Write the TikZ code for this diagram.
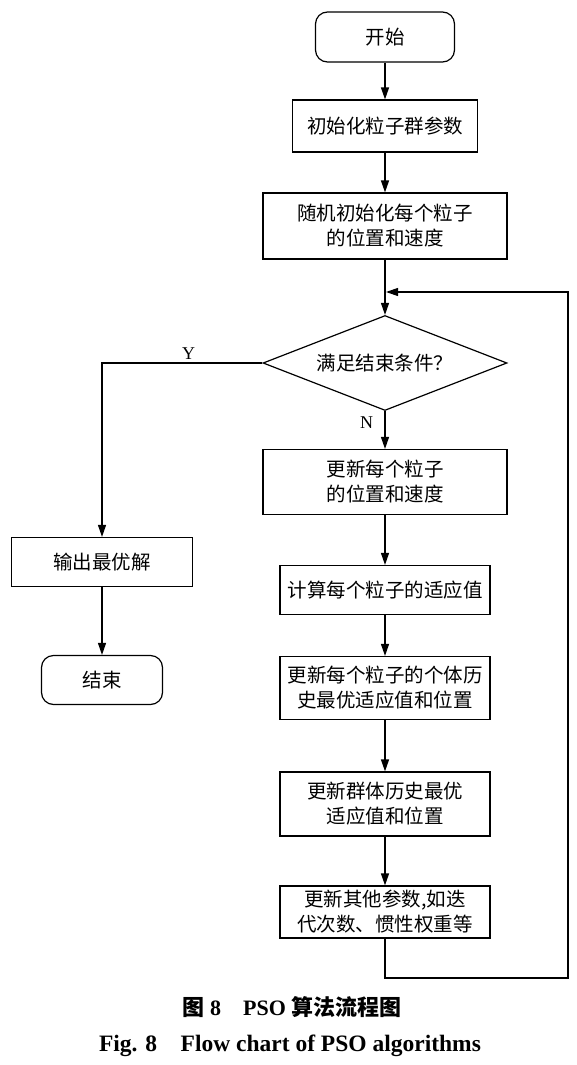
\documentclass[tikz,border=0pt]{standalone}
\usepackage{fontspec}
\setmainfont{Liberation Serif}
\newfontfamily\cjk{Noto Sans CJK SC}
\usetikzlibrary{shapes.geometric,arrows.meta}

\tikzset{
  box/.style={draw,line width=1.2pt,rectangle,inner sep=0pt,align=center,
    font=\cjk\fontsize{19.5}{25}\selectfont},
  term/.style={box,rounded corners=12pt},
  test/.style={box,diamond,aspect=2.57,inner sep=0pt},
  arr/.style={line width=1.2pt,-{Triangle[width=8pt,length=12pt]}},
  line/.style={line width=1.2pt}
}

\begin{document}
\begin{tikzpicture}[x=1pt,y=-1pt]
\useasboundingbox (0,0) rectangle (576,1065);
% the main column
\node[term,minimum width=139pt,minimum height=50pt] (start) at (385,37) {开始};
\node[box,minimum width=185pt,minimum height=52pt] (init) at (385,126) {初始化粒子群参数};
\node[box,minimum width=244pt,minimum height=66pt] (rand) at (385,226) {随机初始化每个粒子\\的位置和速度};
\node[test,minimum width=244pt,minimum height=95pt] (cond) at (385,363) {满足结束条件？};
\node[box,minimum width=244pt,minimum height=65pt] (upd) at (385,482) {更新每个粒子\\的位置和速度};
\node[box,minimum width=210pt,minimum height=49pt] (fit) at (385,590) {计算每个粒子的适应值};
\node[box,minimum width=210pt,minimum height=63pt] (pbest) at (385,688) {更新每个粒子的个体历\\史最优适应值和位置};
\node[box,minimum width=210pt,minimum height=64pt] (gbest) at (385,804) {更新群体历史最优\\适应值和位置};
\node[box,minimum width=210pt,minimum height=52pt] (other) at (385,912) {更新其他参数,如迭\\代次数、惯性权重等};
% the exit column
\node[box,minimum width=181pt,minimum height=49pt] (best) at (102,562) {输出最优解};
\node[term,minimum width=121pt,minimum height=49pt] (stop) at (102,680) {结束};
% the loop back
\coordinate (loopa) at (568,978);
\coordinate (loopb) at (568,292);
\coordinate (join) at (386,292);
% the arrows
\draw[arr] (start) -- (init);
\draw[arr] (init) -- (rand);
\draw[arr] (rand) -- (cond);
\draw[arr] (cond.west) -| node[pos=0.23,above,font=\fontsize{18}{20}\selectfont] {Y} (best);
\draw[arr] (best) -- (stop);
\draw[arr] (cond.south) -- node[pos=0.3,left,xshift=-8pt,font=\fontsize{18}{20}\selectfont] {N} (upd);
\draw[arr] (upd) -- (fit);
\draw[arr] (fit) -- (pbest);
\draw[arr] (pbest) -- (gbest);
\draw[arr] (gbest) -- (other);
\draw[arr] (other.south) |- (loopa) -- (loopb) -- (join);
% the caption
\node[font=\bfseries\fontsize{22}{26}\selectfont] (capcn) at (292,1007) {{\cjk\bfseries 图} 8\quad PSO {\cjk\bfseries 算法流程图}};
\node[font=\bfseries\fontsize{23.5}{27}\selectfont] (capen) at (290,1046) {Fig. 8\quad Flow chart of PSO algorithms};
\end{tikzpicture}
\end{document}
